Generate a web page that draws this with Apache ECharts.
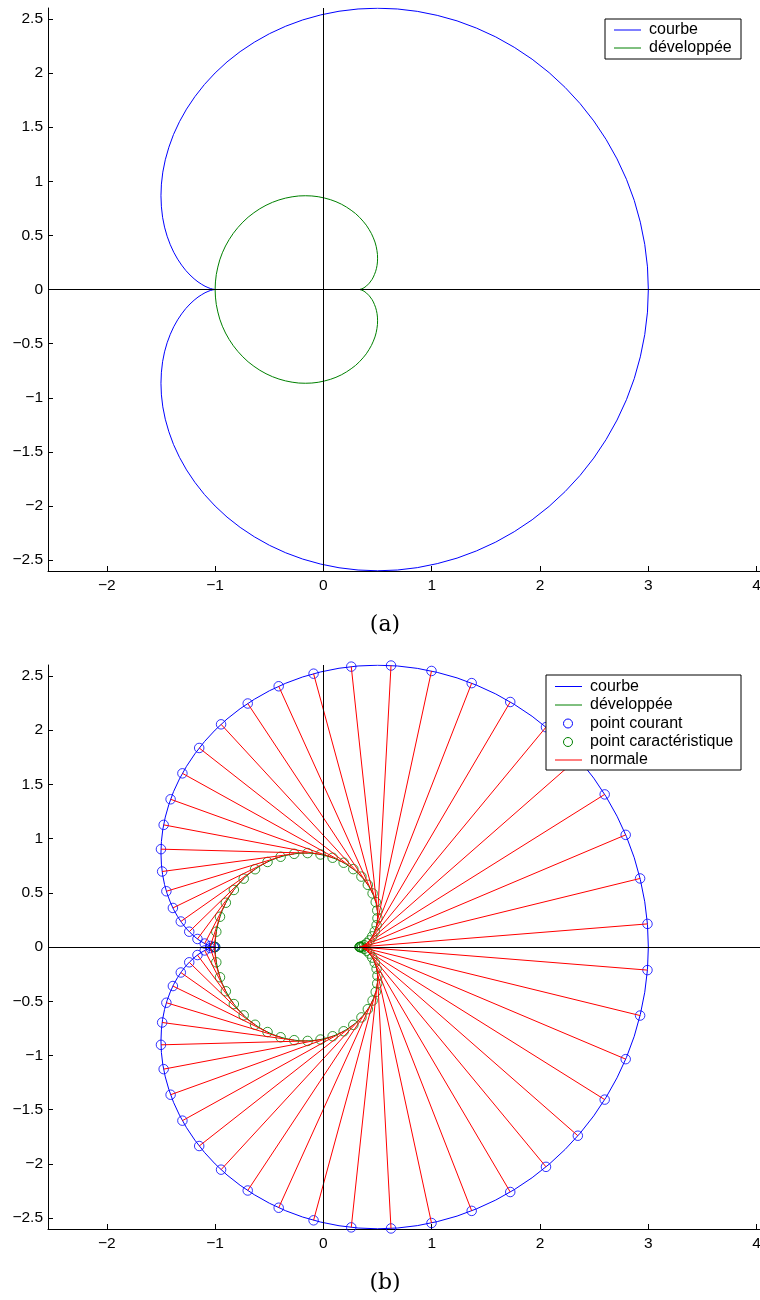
<!DOCTYPE html>
<html>
<head>
<meta charset="utf-8">
<script src="https://cdn.jsdelivr.net/npm/echarts@6/dist/echarts.min.js"></script>
<style>
html,body{margin:0;padding:0;background:#fff;}
#chart{width:760px;height:1300px;}
</style>
</head>
<body>
<div id="chart"></div>
<script>
// Courbe (cardioïde) : échantillons tous les 3° du paramètre, de 0° à 360°
const curveX = [3, 2.992, 2.967, 2.926, 2.870, 2.798, 2.711, 2.610, 2.496, 2.370, 2.232, 2.084, 1.927, 1.762, 1.591, 1.414, 1.234, 1.051, 0.867, 0.683, 0.5, 0.320, 0.144, -0.026, -0.191, -0.348, -0.498, -0.638, -0.769, -0.890, -1, -1.099, -1.187, -1.264, -1.329, -1.384, -1.427, -1.460, -1.483, -1.496, -1.5, -1.496, -1.485, -1.467, -1.443, -1.414, -1.382, -1.346, -1.309, -1.271, -1.232, -1.194, -1.158, -1.124, -1.093, -1.066, -1.043, -1.024, -1.011, -1.003, -1,
  -1.003, -1.011, -1.024, -1.043, -1.066, -1.093, -1.124, -1.158, -1.194, -1.232, -1.271, -1.309, -1.346, -1.382, -1.414, -1.443, -1.467, -1.485, -1.496, -1.5, -1.496, -1.483, -1.460, -1.427, -1.384, -1.329, -1.264, -1.187, -1.099, -1, -0.890, -0.769, -0.638, -0.498, -0.348, -0.191, -0.026, 0.144, 0.320, 0.5, 0.683, 0.867, 1.051, 1.234, 1.414, 1.591, 1.762, 1.927, 2.084, 2.232, 2.370, 2.496, 2.610, 2.711, 2.798, 2.870, 2.926, 2.967, 2.992, 3];
const curveY = [0, 0.209, 0.417, 0.622, 0.823, 1.018, 1.206, 1.386, 1.557, 1.717, 1.866, 2.003, 2.127, 2.237, 2.333, 2.414, 2.481, 2.532, 2.569, 2.591, 2.598, 2.591, 2.570, 2.536, 2.490, 2.432, 2.363, 2.284, 2.197, 2.102, 2, 1.893, 1.781, 1.666, 1.550, 1.432, 1.314, 1.198, 1.084, 0.973, 0.866, 0.764, 0.667, 0.576, 0.492, 0.414, 0.344, 0.280, 0.225, 0.176, 0.134, 0.099, 0.070, 0.048, 0.030, 0.018, 0.009, 0.004, 0.001, 0.0002, 0,
  -0.0002, -0.001, -0.004, -0.009, -0.018, -0.030, -0.048, -0.070, -0.099, -0.134, -0.176, -0.225, -0.280, -0.344, -0.414, -0.492, -0.576, -0.667, -0.764, -0.866, -0.973, -1.084, -1.198, -1.314, -1.432, -1.550, -1.666, -1.781, -1.893, -2, -2.102, -2.197, -2.284, -2.363, -2.432, -2.490, -2.536, -2.570, -2.591, -2.598, -2.591, -2.569, -2.532, -2.481, -2.414, -2.333, -2.237, -2.127, -2.003, -1.866, -1.717, -1.557, -1.386, -1.206, -1.018, -0.823, -0.622, -0.417, -0.209, 0];
// Développée : mêmes valeurs du paramètre
const evolX = [0.333, 0.334, 0.337, 0.341, 0.348, 0.355, 0.364, 0.375, 0.386, 0.398, 0.411, 0.424, 0.436, 0.449, 0.461, 0.471, 0.481, 0.489, 0.495, 0.499, 0.5, 0.499, 0.494, 0.487, 0.476, 0.461, 0.443, 0.421, 0.396, 0.366, 0.333, 0.297, 0.256, 0.213, 0.166, 0.116, 0.064, 0.009, -0.048, -0.107, -0.167, -0.228, -0.289, -0.350, -0.411, -0.471, -0.530, -0.587, -0.642, -0.695, -0.744, -0.790, -0.832, -0.870, -0.904, -0.933, -0.957, -0.975, -0.989, -0.997, -1,
  -0.997, -0.989, -0.975, -0.957, -0.933, -0.904, -0.870, -0.832, -0.790, -0.744, -0.695, -0.642, -0.587, -0.530, -0.471, -0.411, -0.350, -0.289, -0.228, -0.167, -0.107, -0.048, 0.009, 0.064, 0.116, 0.166, 0.213, 0.256, 0.297, 0.333, 0.366, 0.396, 0.421, 0.443, 0.461, 0.476, 0.487, 0.494, 0.499, 0.5, 0.499, 0.495, 0.489, 0.481, 0.471, 0.461, 0.449, 0.436, 0.424, 0.411, 0.398, 0.386, 0.375, 0.364, 0.355, 0.348, 0.341, 0.337, 0.334, 0.333];
const evolY = [0, 0.0001, 0.0004, 0.001, 0.003, 0.006, 0.010, 0.016, 0.023, 0.033, 0.045, 0.059, 0.075, 0.093, 0.115, 0.138, 0.164, 0.192, 0.222, 0.255, 0.289, 0.324, 0.361, 0.399, 0.438, 0.477, 0.517, 0.555, 0.594, 0.631, 0.667, 0.701, 0.732, 0.761, 0.788, 0.811, 0.830, 0.845, 0.857, 0.864, 0.866, 0.864, 0.856, 0.844, 0.827, 0.805, 0.778, 0.746, 0.709, 0.668, 0.622, 0.572, 0.519, 0.462, 0.402, 0.339, 0.274, 0.207, 0.139, 0.070, 0,
  -0.070, -0.139, -0.207, -0.274, -0.339, -0.402, -0.462, -0.519, -0.572, -0.622, -0.668, -0.709, -0.746, -0.778, -0.805, -0.827, -0.844, -0.856, -0.864, -0.866, -0.864, -0.857, -0.845, -0.830, -0.811, -0.788, -0.761, -0.732, -0.701, -0.667, -0.631, -0.594, -0.555, -0.517, -0.477, -0.438, -0.399, -0.361, -0.324, -0.289, -0.255, -0.222, -0.192, -0.164, -0.138, -0.115, -0.093, -0.075, -0.059, -0.045, -0.033, -0.023, -0.016, -0.010, -0.006, -0.003, -0.001, -0.0004, -0.0001, 0];
// Points courants (sur la courbe)
const courantX = [2.992, 2.924, 2.791, 2.597, 2.349, 2.055, 1.725, 1.369, 0.998, 0.624, 0.257, -0.091, -0.413, -0.699, -0.945, -1.147, -1.302, -1.411, -1.475, -1.500, -1.489, -1.450, -1.390, -1.317, -1.239, -1.163, -1.096, -1.044, -1.011, -1,
  -1.011, -1.044, -1.096, -1.163, -1.239, -1.317, -1.390, -1.450, -1.489, -1.500, -1.475, -1.411, -1.302, -1.147, -0.945, -0.699, -0.413, -0.091, 0.257, 0.624, 0.998, 1.369, 1.725, 2.055, 2.349, 2.597, 2.791, 2.924, 2.992];
const courantY = [0.213, 0.632, 1.034, 1.407, 1.740, 2.027, 2.259, 2.433, 2.545, 2.595, 2.585, 2.520, 2.404, 2.245, 2.053, 1.835, 1.601, 1.362, 1.126, 0.902, 0.696, 0.514, 0.360, 0.235, 0.141, 0.074, 0.032, 0.0096, 0.0012, 0,
  -0.0012, -0.0096, -0.032, -0.074, -0.141, -0.235, -0.360, -0.514, -0.696, -0.902, -1.126, -1.362, -1.601, -1.835, -2.053, -2.245, -2.404, -2.520, -2.585, -2.595, -2.545, -2.433, -2.259, -2.027, -1.740, -1.407, -1.034, -0.632, -0.213];
// Points caractéristiques (sur la développée)
const caracX = [0.334, 0.342, 0.356, 0.376, 0.400, 0.426, 0.451, 0.474, 0.491, 0.499, 0.497, 0.483, 0.454, 0.410, 0.351, 0.276, 0.187, 0.085, -0.027, -0.146, -0.270, -0.395, -0.516, -0.631, -0.736, -0.827, -0.901, -0.955, -0.989, -1,
  -0.989, -0.955, -0.901, -0.827, -0.736, -0.631, -0.516, -0.395, -0.270, -0.146, -0.027, 0.085, 0.187, 0.276, 0.351, 0.410, 0.454, 0.483, 0.497, 0.499, 0.491, 0.474, 0.451, 0.426, 0.400, 0.376, 0.356, 0.342, 0.334];
const caracY = [0.0001, 0.001, 0.006, 0.017, 0.035, 0.061, 0.098, 0.144, 0.201, 0.265, 0.337, 0.414, 0.494, 0.573, 0.649, 0.718, 0.777, 0.823, 0.853, 0.866, 0.859, 0.832, 0.784, 0.717, 0.630, 0.526, 0.408, 0.279, 0.141, 0,
  -0.141, -0.279, -0.408, -0.526, -0.630, -0.717, -0.784, -0.832, -0.859, -0.866, -0.853, -0.823, -0.777, -0.718, -0.649, -0.573, -0.494, -0.414, -0.337, -0.265, -0.201, -0.144, -0.098, -0.061, -0.035, -0.017, -0.006, -0.001, -0.0001];
// Graduations
const xTicks = [-2, -1, 0, 1, 2, 3, 4];
const yTicks = [-2.5, -2, -1.5, -1, -0.5, 0, 0.5, 1, 1.5, 2, 2.5];
const xRange = [-2.543, 4.031];
const yRange = [-2.6, 2.6];
const legendA = ['courbe', 'développée'];
const legendB = ['courbe', 'développée', 'point courant', 'point caractéristique', 'normale'];
const captions = ['(a)', '(b)'];

const BLUE = '#0000ff', GREEN = '#008000', RED = '#ff0000';
const FONT = '"Liberation Sans", Arial, Helvetica, sans-serif';

const curvePts = curveX.map((x, i) => [x, curveY[i]]);
const evolPts = evolX.map((x, i) => [x, evolY[i]]);
const pointCourant = courantX.map((x, i) => [x, courantY[i]]);
const pointCarac = caracX.map((x, i) => [x, caracY[i]]);
const normales = pointCourant.map((p, i) => ({ coords: [p, pointCarac[i]] }));

const fmt = v => String(v).replace('-', '\u2212');

function xAxisFor(g) {
  return {
    gridIndex: g, type: 'value', min: xRange[0], max: xRange[1], position: 'bottom',
    axisLine: { show: true, onZero: false, lineStyle: { color: '#000', width: 1 } },
    axisTick: { show: true, inside: true, length: 5, customValues: xTicks, lineStyle: { color: '#000' } },
    axisLabel: { show: true, customValues: xTicks, formatter: fmt, color: '#000', fontSize: 15.5, fontFamily: FONT, margin: 7, hideOverlap: false },
    splitLine: { show: false }
  };
}
function yAxisFor(g) {
  return {
    gridIndex: g, type: 'value', min: yRange[0], max: yRange[1], position: 'left',
    axisLine: { show: true, onZero: false, lineStyle: { color: '#000', width: 1 } },
    axisTick: { show: true, inside: true, length: 5, customValues: yTicks, lineStyle: { color: '#000' } },
    axisLabel: { show: true, customValues: yTicks, formatter: fmt, color: '#000', fontSize: 15.5, fontFamily: FONT, margin: 5 },
    splitLine: { show: false }
  };
}
const zeroLines = {
  silent: true, symbol: ['none', 'none'], label: { show: false },
  lineStyle: { color: '#000', type: 'solid', width: 1 },
  emphasis: { disabled: true },
  data: [{ xAxis: 0 }, { yAxis: 0 }]
};
function lineSeries(name, g, data, color, withZero) {
  const s = {
    name, type: 'line', xAxisIndex: g, yAxisIndex: g, data,
    showSymbol: false, symbol: 'none', smooth: false,
    lineStyle: { color, width: 1 }, itemStyle: { color }, z: 2
  };
  if (withZero) s.markLine = zeroLines;
  return s;
}
function circleSeries(name, g, data, color) {
  return {
    name, type: 'scatter', xAxisIndex: g, yAxisIndex: g, data,
    symbol: 'circle', symbolSize: 9.5,
    itemStyle: { color: 'rgba(0,0,0,0)', borderColor: color, borderWidth: 1 }, z: 3
  };
}

function legendBox(x, y, w, h, items, rowY) {
  const els = [{ type: 'rect', shape: { x, y, width: w, height: h }, style: { fill: '#fff', stroke: '#000', lineWidth: 1 }, z: 100 }];
  items.forEach((it, i) => {
    const cy = rowY[i];
    if (it.kind === 'line') {
      els.push({ type: 'line', shape: { x1: x + 9, y1: cy, x2: x + 36, y2: cy }, style: { stroke: it.color, lineWidth: 1 }, z: 101 });
    } else {
      els.push({ type: 'circle', shape: { cx: x + 22, cy, r: 4.5 }, style: { fill: 'none', stroke: it.color, lineWidth: 1 }, z: 101 });
    }
    els.push({ type: 'text', x: x + 44, y: cy, style: { text: it.label, fill: '#000', font: '16px ' + FONT, verticalAlign: 'middle', align: 'left' }, z: 101 });
  });
  return els;
}

const chart = echarts.init(document.getElementById('chart'), null, { renderer: 'canvas' });
chart.setOption({
  animation: false,
  backgroundColor: '#fff',
  grid: [
    { left: 48, top: 8, width: 712, height: 563, containLabel: false, outerBoundsMode: 'none' },
    { left: 48, top: 665, width: 712, height: 564, containLabel: false, outerBoundsMode: 'none' }
  ],
  xAxis: [xAxisFor(0), xAxisFor(1)],
  yAxis: [yAxisFor(0), yAxisFor(1)],
  series: [
    lineSeries(legendA[0], 0, curvePts, BLUE, true),
    lineSeries(legendA[1], 0, evolPts, GREEN, false),
    lineSeries(legendB[0], 1, curvePts, BLUE, true),
    lineSeries(legendB[1], 1, evolPts, GREEN, false),
    circleSeries(legendB[2], 1, pointCourant, BLUE),
    circleSeries(legendB[3], 1, pointCarac, GREEN),
    {
      name: legendB[4], type: 'lines', coordinateSystem: 'cartesian2d', xAxisIndex: 1, yAxisIndex: 1,
      polyline: false, data: normales, symbol: ['none', 'none'],
      lineStyle: { color: RED, width: 1, opacity: 1, curveness: 0 }, z: 4, silent: true
    }
  ],
  graphic: [
    ...legendBox(605, 19, 136, 40, [
      { kind: 'line', color: BLUE, label: legendA[0] },
      { kind: 'line', color: GREEN, label: legendA[1] }
    ], [30, 48]),
    ...legendBox(546, 675, 195, 95, [
      { kind: 'line', color: BLUE, label: legendB[0] },
      { kind: 'line', color: GREEN, label: legendB[1] },
      { kind: 'circle', color: BLUE, label: legendB[2] },
      { kind: 'circle', color: GREEN, label: legendB[3] },
      { kind: 'line', color: RED, label: legendB[4] }
    ], [686.5, 705, 723.5, 742, 760]),
    { type: 'text', x: 385, y: 625, style: { text: captions[0], fill: '#000', font: '22px "DejaVu Serif", serif', align: 'center', verticalAlign: 'middle' } },
    { type: 'text', x: 385, y: 1283, style: { text: captions[1], fill: '#000', font: '22px "DejaVu Serif", serif', align: 'center', verticalAlign: 'middle' } }
  ]
});
</script>
</body>
</html>
